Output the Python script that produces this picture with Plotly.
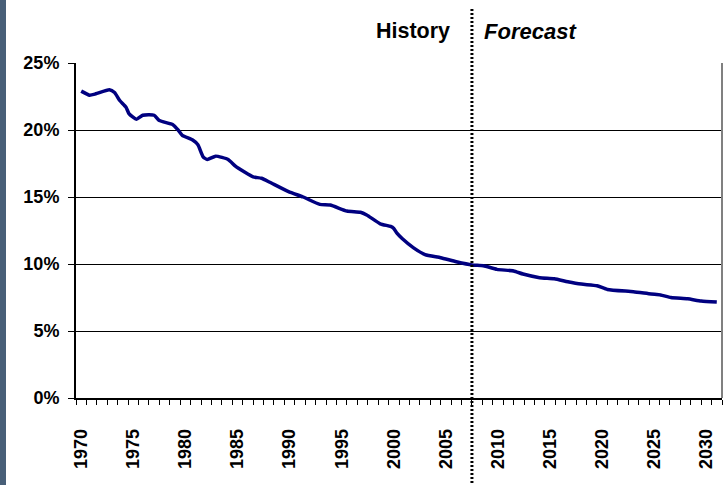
import plotly.graph_objects as go

# Data (decimal years, share in %)
years = [1970.0, 1970.8, 1971.4, 1972.7, 1973.2, 1973.7, 1974.3, 1974.6, 1975.3, 1975.9,
         1977.0, 1977.5, 1978.8, 1979.3, 1979.7, 1980.7, 1981.2, 1981.7, 1982.1, 1982.9,
         1984.1, 1984.8, 1985.6, 1986.5, 1987.3, 1988.1, 1989.9, 1991.3, 1992.9, 1993.9,
         1995.5, 1996.8, 1997.4, 1998.7, 1999.7, 2000.0, 2000.3, 2000.8, 2001.9, 2003.0,
         2004.5, 2006.0, 2007.5, 2008.6, 2009.9, 2011.5, 2012.4, 2014.0, 2015.4, 2016.7,
         2018.0, 2019.5, 2020.5, 2023.0, 2024.7, 2025.6, 2026.6, 2028.2, 2029.5, 2031.0]
share = [22.9, 22.6, 22.7, 23.0, 22.8, 22.2, 21.7, 21.2, 20.8, 21.1,
         21.1, 20.7, 20.4, 20.0, 19.6, 19.25, 18.9, 18.0, 17.8, 18.05,
         17.8, 17.3, 16.9, 16.5, 16.4, 16.1, 15.4, 15.0, 14.45, 14.4,
         13.95, 13.86, 13.66, 13.0, 12.8, 12.65, 12.3, 11.9, 11.2, 10.7,
         10.47, 10.17, 9.93, 9.87, 9.6, 9.48, 9.25, 8.98, 8.9, 8.68,
         8.5, 8.38, 8.1, 7.93, 7.76, 7.69, 7.5, 7.4, 7.24, 7.16]

tick_years = list(range(1970, 2031, 5))
tick_labels = [str(y) for y in tick_years]
y_ticks = [0, 5, 10, 15, 20, 25]
y_labels = [f"{v}%" for v in y_ticks]
split_year = 2007.5
first_cat, last_cat = 1970, 2031

FONT = "Liberation Sans, Arial, sans-serif"

fig = go.Figure()
fig.add_trace(go.Scatter(
    x=years, y=share, mode="lines",
    line=dict(color="#000080", width=3.5, shape="spline", smoothing=0.5),
    hoverinfo="skip", showlegend=False,
))

fig.update_layout(
    width=725, height=485,
    margin=dict(l=76, r=3, t=63, b=87, autoexpand=False),
    paper_bgcolor="white", plot_bgcolor="white",
    font=dict(family=FONT, color="black"),
    xaxis=dict(
        range=[first_cat - 0.5, last_cat + 0.5], automargin=False,
        tickmode="array", tickvals=tick_years, ticktext=tick_labels,
        tickangle=-90, ticks="", ticklabelstandoff=22,
        tickfont=dict(family=FONT, size=18, color="black", weight="bold"),
        minor=dict(ticks="outside", ticklen=5, tickcolor="black", tickwidth=1,
                   tick0=first_cat - 0.5, dtick=1, showgrid=False),
        showgrid=False, zeroline=False,
        showline=True, linecolor="black", linewidth=1.5,
    ),
    yaxis=dict(
        range=[0, 25], automargin=False,
        tickmode="array", tickvals=y_ticks, ticktext=y_labels,
        ticks="outside", ticklen=6, tickcolor="black", tickwidth=1,
        ticklabelstandoff=5,
        tickfont=dict(family=FONT, size=18, color="black", weight="bold"),
        showgrid=True, gridcolor="black", gridwidth=1,
        zeroline=False, showline=True, linecolor="black", linewidth=2,
    ),
    shapes=[
        # left decorative bar
        dict(type="rect", xref="paper", yref="paper",
             x0=-76 / 646, x1=-70 / 646, y0=-87 / 335, y1=1 + 63 / 335,
             fillcolor="#485f78", line=dict(width=0), layer="above"),
        # right border of plot area
        dict(type="line", xref="paper", yref="paper", x0=1, x1=1, y0=0, y1=1,
             line=dict(color="#808080", width=2)),
        # History / Forecast divider
        dict(type="line", xref="x", yref="paper", x0=split_year, x1=split_year,
             y0=-0.254, y1=1.161, line=dict(color="black", width=3, dash="2px,2px"),
             layer="above"),
    ],
    annotations=[
        dict(text="<b>History</b>", x=split_year, xref="x", y=1.0955, yref="paper",
             xanchor="right", yanchor="middle", xshift=-20, showarrow=False,
             font=dict(family=FONT, size=21.5, color="black")),
        dict(text="<b><i>Forecast</i></b>", x=split_year, xref="x", y=1.0955, yref="paper",
             xanchor="left", yanchor="middle", xshift=10, showarrow=False,
             font=dict(family=FONT, size=22, color="black")),
    ],
)

fig.write_html(
    "out.html",
    config={"displayModeBar": False},
    post_script="document.body.style.margin='0';document.body.style.overflow='hidden';",
)
